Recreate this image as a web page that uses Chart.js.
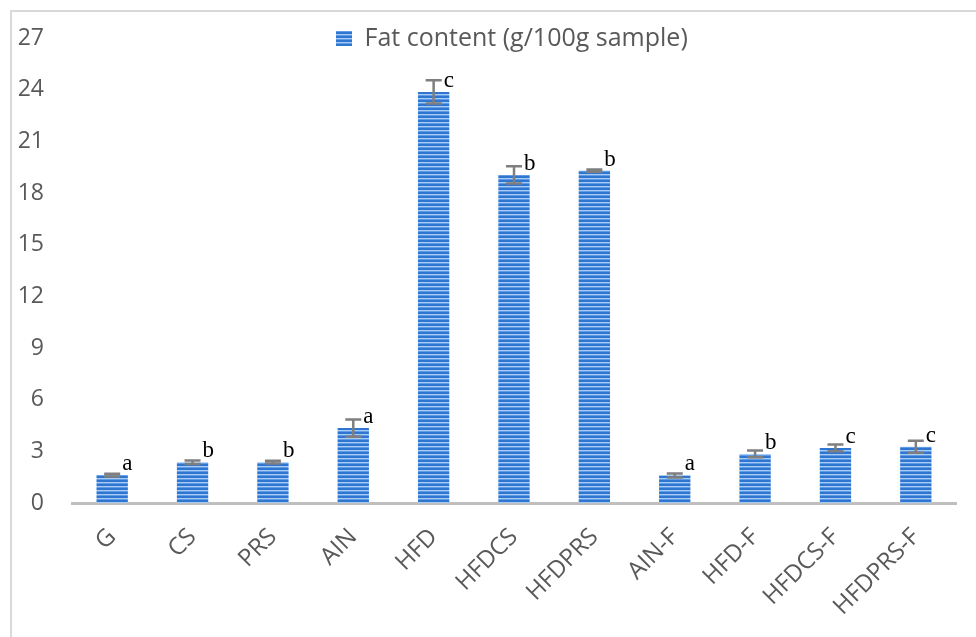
<!DOCTYPE html>
<html>
<head>
<meta charset="utf-8">
<script src="https://cdn.jsdelivr.net/npm/chart.js@4.4.1/dist/chart.umd.min.js"></script>
<style>
  html, body { margin: 0; padding: 0; background: #fff; overflow: hidden; }
  #frame {
    position: absolute; left: 10px; top: 10px; width: 1000px; height: 700px;
    border-left: 2px solid #d9d9d9; border-top: 2px solid #d9d9d9;
  }
  #wrap { position: absolute; left: 0; top: 0; width: 976px; height: 637px; }
</style>
</head>
<body>
<div id="frame"></div>
<div id="wrap"><canvas id="chart-fat"></canvas></div>
<script>
const categories = ["G", "CS", "PRS", "AIN", "HFD", "HFDCS", "HFDPRS", "AIN-F", "HFD-F", "HFDCS-F", "HFDPRS-F"];
const fatValues = [1.62, 2.37, 2.37, 4.35, 23.87, 19.05, 19.3, 1.6, 2.85, 3.2, 3.27];
const fatErrors = [0.08, 0.1, 0.08, 0.5, 0.67, 0.5, 0.06, 0.12, 0.2, 0.2, 0.35];
const letters = ["a", "b", "b", "a", "c", "b", "b", "a", "b", "c", "c"];
const yTicks = [0, 3, 6, 9, 12, 15, 18, 21, 24, 27];

// striped fill like the office bar style
const makeStripes = () => {
    const c = document.createElement("canvas");
    c.width = 4;
    c.height = 4;
    const g = c.getContext("2d");
    g.fillStyle = "#2f76d2";
    g.fillRect(0, 0, 4, 2);
    g.fillStyle = "#a8cbf3";
    g.fillRect(0, 2, 4, 1);
    g.fillStyle = "#5f9ce3";
    g.fillRect(0, 3, 4, 1);
    return g.createPattern(c, "repeat");
};
const stripes = makeStripes();

const errorBars = {
    id: "errorBars",
    afterDatasetsDraw(chart) {
        const ctx = chart.ctx;
        const meta = chart.getDatasetMeta(0);
        const y = chart.scales.y;
        ctx.save();
        meta.data.forEach((bar, i) => {
            const x = bar.x;
            const hi = y.getPixelForValue(fatValues[i] + fatErrors[i]);
            const lo = y.getPixelForValue(fatValues[i] - fatErrors[i]);
            ctx.strokeStyle = "#7f7f7f";
            ctx.lineWidth = 2.5;
            ctx.beginPath();
            ctx.moveTo(x, hi);
            ctx.lineTo(x, lo);
            ctx.moveTo(x - 8, hi);
            ctx.lineTo(x + 8, hi);
            ctx.moveTo(x - 8, lo);
            ctx.lineTo(x + 8, lo);
            ctx.stroke();

            ctx.fillStyle = "#000";
            ctx.font = "23px 'Liberation Serif'";
            ctx.textAlign = "left";
            ctx.textBaseline = "alphabetic";
            ctx.fillText(letters[i], x + 10, y.getPixelForValue(fatValues[i]) - 5);
        });
        ctx.restore();
    },
};

// legend sits inside the plot, centred at the top
const placeLegend = {
    id: "placeLegend",
    afterLayout(chart) {
        const lg = chart.legend;
        const w = lg.right - lg.left;
        const h = lg.bottom - lg.top;
        lg.left = 336;
        lg.right = 336 + w;
        lg.top = 26;
        lg.bottom = 26 + h;
    },
};

const chartFat = new Chart(document.getElementById("chart-fat"), {
    type: "bar",
    data: {
        labels: categories,
        datasets: [
            {
                label: "Fat content (g/100g sample)",
                data: fatValues,
                backgroundColor: stripes,
                borderWidth: 0,
                categoryPercentage: 1,
                barPercentage: 0.39,
            },
        ],
    },
    options: {
        responsive: true,
        maintainAspectRatio: false,
        animation: false,
        layout: {
            padding: { left: 12, right: 20, top: 38, bottom: 0 },
        },
        plugins: {
            legend: {
                position: "chartArea",
                align: "start",
                labels: {
                    color: "#595959",
                    font: { family: "'Open Sans'", size: 25 },
                    boxWidth: 16,
                    boxHeight: 15,
                    padding: 0,
                },
            },
            tooltip: { enabled: false },
        },
        scales: {
            x: {
                grid: { display: false },
                border: { color: "#bfbfbf", width: 3 },
                ticks: {
                    color: "#595959",
                    font: { family: "'Open Sans'", size: 24 },
                    minRotation: 45,
                    maxRotation: 45,
                    padding: 12,
                },
                afterFit: (scale) => {
                    scale.height = 134;
                },
            },
            y: {
                min: 0,
                max: 27,
                afterBuildTicks: (scale) => {
                    scale.ticks = yTicks.map((v) => ({ value: v }));
                },
                grid: { display: false, drawTicks: false },
                border: { display: false },
                ticks: {
                    color: "#595959",
                    font: { family: "'Open Sans'", size: 23, lineHeight: 1 },
                    padding: 28,
                },
                afterFit: (scale) => {
                    scale.width = 60;
                    scale.paddingTop = 0;
                    scale.paddingBottom = 0;
                },
            },
        },
    },
    plugins: [errorBars, placeLegend],
});
</script>
</body>
</html>
